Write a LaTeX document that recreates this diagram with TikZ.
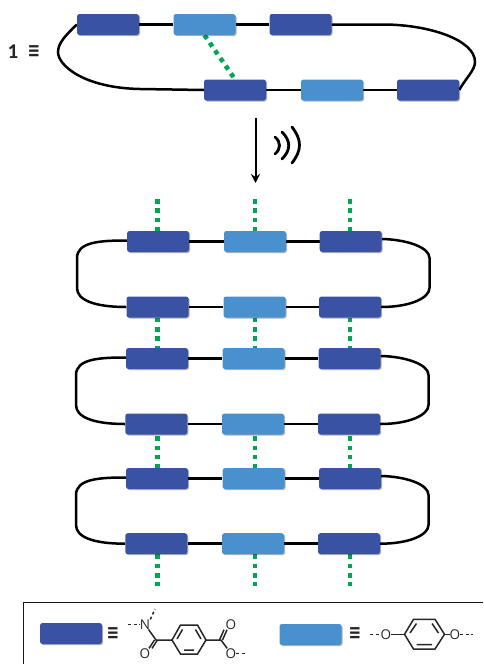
\documentclass[tikz,border=0pt]{standalone}
\usepackage{fontspec}
\usepackage{graphicx}
\setmainfont{Carlito}
\newfontfamily\symfont{DejaVu Sans}
\newfontfamily\atomfont{Open Sans}
\usetikzlibrary{shadows,arrows.meta}
\pgfdeclarelayer{back}
\pgfsetlayers{back,main}
\definecolor{darkblock}{HTML}{3A52A4}
\definecolor{lightblock}{HTML}{4990CE}
\definecolor{linkgreen}{HTML}{00A651}
\newcommand{\tripleq}{\scalebox{1}[1.35]{≡}}
\tikzset{
  block/.style={minimum width=62pt,minimum height=21pt,inner sep=0pt,rounded corners=2.5pt,
    drop shadow={shadow xshift=1pt,shadow yshift=-1pt,opacity=.3,fill=black}},
  darkb/.style={block,fill=darkblock},
  lightb/.style={block,fill=lightblock},
  chain/.style={draw=black,line width=2.5pt},
  hbond/.style={draw=linkgreen,line width=4.6pt,dash pattern=on 4.5pt off 4.8pt},
  bondl/.style={draw=black!85,line width=1.5pt},
  dashl/.style={draw=black!85,line width=1.5pt,dash pattern=on 3pt off 2.5pt},
  atom/.style={inner sep=0pt,font=\atomfont\fontsize{13.5}{13.5}\selectfont,text=black!85},
  eqv/.style={inner sep=0pt,font=\symfont\bfseries\fontsize{15}{15}\selectfont,text=black!85},
  sono/.style={draw=black,line width=2.8pt,line cap=round},
}
\begin{document}
\begin{tikzpicture}[x=1pt,y=-1pt]
\useasboundingbox (0,0) rectangle (483,664);
% top chain
\node[darkb]  (t1) at (108,24.5) {};
\node[lightb] (t2) at (204.5,24.5) {};
\node[darkb]  (t3) at (300.5,24.5) {};
\node[darkb]  (t4) at (235,90) {};
\node[lightb] (t5) at (332,90) {};
\node[darkb]  (t6) at (428,90) {};
\begin{pgfonlayer}{back}
\draw[chain] (t1.east) -- (t2.west) (t2.east) -- (t3.west)
  (t4.east) -- (t5.west) (t5.east) -- (t6.west);
\draw[chain] (t1.west) .. controls (66,35) and (58,43) .. (58,52)
  .. controls (58,66) and (85,88) .. (140,89) -- (t4.west);
\draw[chain] (t3.east) -- (385,24.5) .. controls (430,25) and (475,40) .. (475,62)
  .. controls (475,70) and (466,78) .. (t6.east);
\draw[hbond] (t2.south) -- (t4.north);
\end{pgfonlayer}
% label
\node[inner sep=0pt,font=\bfseries\fontsize{21}{21}\selectfont,text=black!85] (one) at (13,52) {1};
\node[eqv] (oneq) at (34,52) {\tripleq};
% arrow
\coordinate (arrs) at (255.5,118);
\coordinate (arre) at (255.5,183);
\draw[line width=2pt,-{Stealth[length=9pt,width=9pt]}] (arrs) -- (arre);
\draw[sono] (275,137) .. controls (281,142) and (281,149) .. (275,154);
\draw[sono] (282,132) .. controls (291,141) and (291,150) .. (282,159);
\draw[sono] (292,127) .. controls (302,140) and (302,150) .. (292,163);
% rows
\foreach \nm/\yy/\xa/\xb/\xc in {a/241.5/158/255/350.7, b/307/157.5/254.5/350, c/358.5/157/253.5/349.5,
   d/424/156.3/253/349, e/478.5/157/253.6/350, f/543.7/156.3/253/349}{
  \node[darkb]  (\nm1) at (\xa,\yy) {};
  \node[lightb] (\nm2) at (\xb,\yy) {};
  \node[darkb]  (\nm3) at (\xc,\yy) {};
  \begin{pgfonlayer}{back}
  \draw[chain] (\nm1.east) -- (\nm2.west) (\nm2.east) -- (\nm3.west);
  \end{pgfonlayer}
}
% chain ends between paired rows
\begin{pgfonlayer}{back}
\foreach \p/\q/\yt/\yb/\lx/\rx in {a/b/258/288/77/429.5, c/d/375/405/76/428.5, e/f/495/525/76/428.5}{
  \draw[chain] ([yshift=1pt]\p1.west) .. controls ([xshift=-27pt,yshift=1pt]\p1.west) and (\lx,\yt-16) .. (\lx,\yt)
    -- (\lx,\yb) .. controls (\lx,\yb+12) and ([xshift=-32pt]\q1.west) .. (\q1.west);
  \draw[chain] ([yshift=2.5pt]\p3.east) .. controls ([xshift=24pt,yshift=2pt]\p3.east) and (\rx,\yt-11) .. (\rx,\yt)
    -- (\rx,\yb) .. controls (\rx,\yb+10) and ([xshift=29pt]\q3.east) .. (\q3.east);
}
% green links
\foreach \i/\gx in {1/157.7,2/255,3/350}{
  \coordinate (g\i) at (\gx,0);
  \coordinate (top\i) at (\gx,199);
  \coordinate (bot\i) at (\gx,586);
  \draw[hbond] (top\i) -- (a\i.north -| g\i);
  \draw[hbond] (b\i.south -| g\i) -- (c\i.north -| g\i);
  \draw[hbond] ([yshift=-1.5pt]d\i.south -| g\i) -- (e\i.north -| g\i);
  \draw[hbond] (f\i.south -| g\i) -- (bot\i);
}
\end{pgfonlayer}
% legend frame
\coordinate (fa) at (23.5,664);
\coordinate (fb) at (23.5,602.5);
\coordinate (fc) at (483,602.5);
\draw[line width=1.5pt,draw=black!90] (fa) -- (fb) -- (fc);
\node[darkb]  (k1) at (71,633.5) {};
\node[lightb] (k2) at (310.5,634.5) {};
\node[eqv] (e1) at (113,634) {\tripleq};
\node[eqv] (e2) at (355,634) {\tripleq};
% dark block structure
\node[atom] (n1) at (145,624.5) {N};
\node[atom] (o1) at (145,653.5) {O};
\node[atom] (o2) at (231,624.5) {O};
\node[atom] (o3) at (231,653.5) {O};
\coordinate (c1) at (156,640);
\coordinate (c2) at (221,640);
\coordinate (ra) at (172,640);
\coordinate (rb) at (180.5,625);
\coordinate (rc) at (197.5,625);
\coordinate (rd) at (206,640);
\coordinate (re) at (197.5,654);
\coordinate (rf) at (180.5,654);
\coordinate (d1) at (128,624.5);
\coordinate (d2) at (155,609);
\draw[bondl] (ra) -- (rb) -- (rc) -- (rd) -- (re) -- (rf) -- cycle;
\draw[bondl] (177,639) -- (182.5,629.5) (184,650) -- (194,650) (195.5,629.5) -- (201,639);
\draw[bondl] (n1) -- (c1) -- (ra) (rd) -- (c2);
\draw[bondl] ([xshift=-1.5pt]c1) -- ([xshift=-1.5pt]o1.north east);
\draw[bondl] ([xshift=1.5pt]c1) -- ([xshift=1.5pt]o1.north east);
\draw[bondl] ([xshift=-1.5pt]c2) -- ([xshift=-1.5pt]o2.south west);
\draw[bondl] ([xshift=1.5pt]c2) -- ([xshift=1.5pt]o2.south west);
\draw[bondl] (c2) -- (o3);
\draw[dashl] (d1) -- (n1.west);
\draw[dashl] (n1.north east) -- (d2);
\draw[dashl] (o3.east) -- ([xshift=10pt]o3.east);
% light block structure
\node[atom] (o4) at (386,634.3) {O};
\node[atom] (o5) at (455,634.3) {O};
\coordinate (sa) at (404.5,634.3);
\coordinate (sb) at (413.5,619.3);
\coordinate (sc) at (435,619.3);
\coordinate (sd) at (444.5,634.3);
\coordinate (se) at (435,649);
\coordinate (sf) at (413.5,649);
\draw[bondl] (sa) -- (sb) -- (sc) -- (sd) -- (se) -- (sf) -- cycle;
\draw[bondl] (410,633) -- (416.5,623.5) (416.5,644.5) -- (432,644.5) (432,623.5) -- (438.5,633);
\draw[bondl] (o4) -- (sa) (sd) -- (o5);
\coordinate (dl) at (370,634.3);
\coordinate (dr) at (473,634.3);
\draw[dashl] (dl) -- (o4.west);
\draw[dashl] (o5.east) -- (dr);
\end{tikzpicture}
\end{document}
